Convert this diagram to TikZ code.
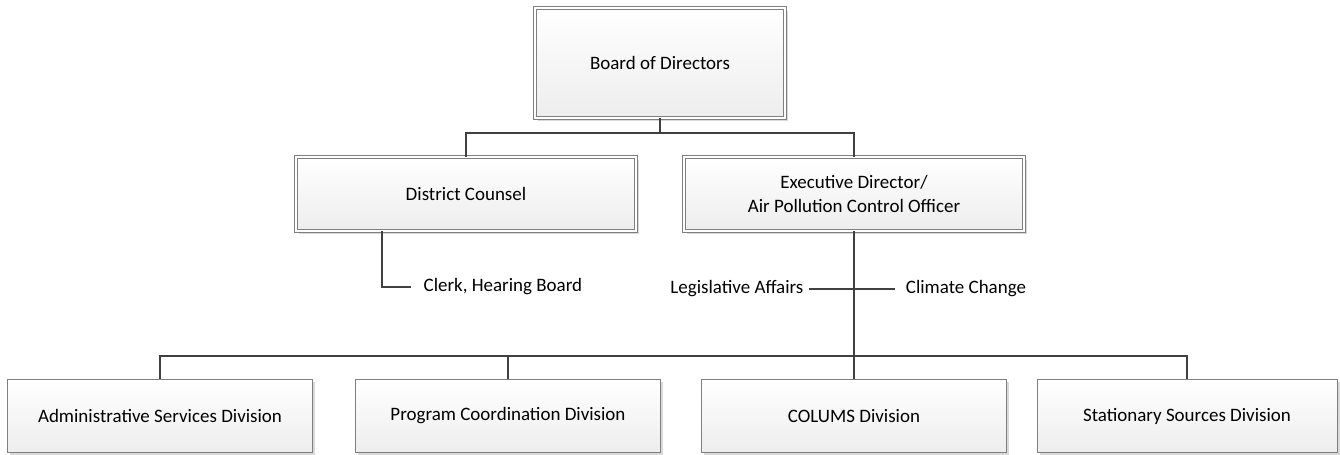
\documentclass[tikz,border=0pt]{standalone}
\usepackage{fontspec}
\setmainfont{Carlito}
\usetikzlibrary{
  positioning,
  shadows,
  calc,
}
\definecolor{border}{HTML}{7F7F7F}
\definecolor{fillTop}{HTML}{FFFFFF}
\definecolor{fillBot}{HTML}{EDEDED}
\definecolor{lineCol}{HTML}{404040}
\definecolor{shadowCol}{HTML}{D9D9D9}
\tikzset{
  unitbox/.style={
    rectangle, draw=border, top color=fillTop, bottom color=fillBot,
    align=center, font=\fontsize{10.8}{14}\selectfont, line width=0.5pt,
    inner sep=3pt,
    drop shadow={shadow xshift=1.6pt, shadow yshift=-1.6pt, fill=shadowCol, opacity=1},
  },
  headbox/.style={
    unitbox, double=white, double distance=1.1pt,
  },
  conn/.style={draw=lineCol, line width=1.3pt},
  sidetext/.style={font=\fontsize{10.8}{14}\selectfont, inner sep=3pt},
}

\begin{document}
\begin{tikzpicture}[x=0.02cm, y=-0.02cm]

  \useasboundingbox (0,0) rectangle (1340,455);

  % Top rows
  \node[headbox, minimum width=5cm, minimum height=2.2cm] (board) at (660,63) {Board of Directors};
  \node[headbox, minimum width=6.8cm, minimum height=1.48cm] (counsel) at (466,194) {District Counsel};
  \node[headbox, minimum width=6.8cm, minimum height=1.48cm] (exec) at (854,194) {Executive Director/\\Air Pollution Control Officer};

  % Side units
  \node[sidetext, anchor=west, inner xsep=7pt] (clerk) at (411,287) {Clerk, Hearing Board};
  \node[sidetext, anchor=east] (legis) at (809,289) {Legislative Affairs};
  \node[sidetext, anchor=west, inner xsep=6pt] (climate) at (895,289) {Climate Change};

  % Bottom row
  \node[unitbox, minimum width=6.1cm, minimum height=1.46cm] (admin) at (160,416) {Administrative Services Division};
  \node[unitbox, minimum width=6.1cm, minimum height=1.46cm] (progr) at (508,416) {Program Coordination Division};
  \node[unitbox, minimum width=6.1cm, minimum height=1.46cm] (colums) at (854,416) {COLUMS Division};
  \node[unitbox, minimum width=6cm, minimum height=1.46cm] (stat) at (1187,416) {Stationary Sources Division};

  \coordinate (topbar) at (660,133);
  \coordinate (lowbar) at (854,356);

  \draw[conn] (board.south) -- (topbar);
  \draw[conn] (counsel.north) |- (topbar) -| (exec.north);
  \draw[conn] ([xshift=-1.68cm]counsel.south) |- (clerk.west);
  \draw[conn] (exec.south) -- (colums.north);
  \draw[conn] (legis.east) -- (climate.west);
  \draw[conn] (admin.north) |- (lowbar) -| (stat.north);
  \draw[conn] (progr.north) -- (progr.north |- lowbar);

\end{tikzpicture}
\end{document}
